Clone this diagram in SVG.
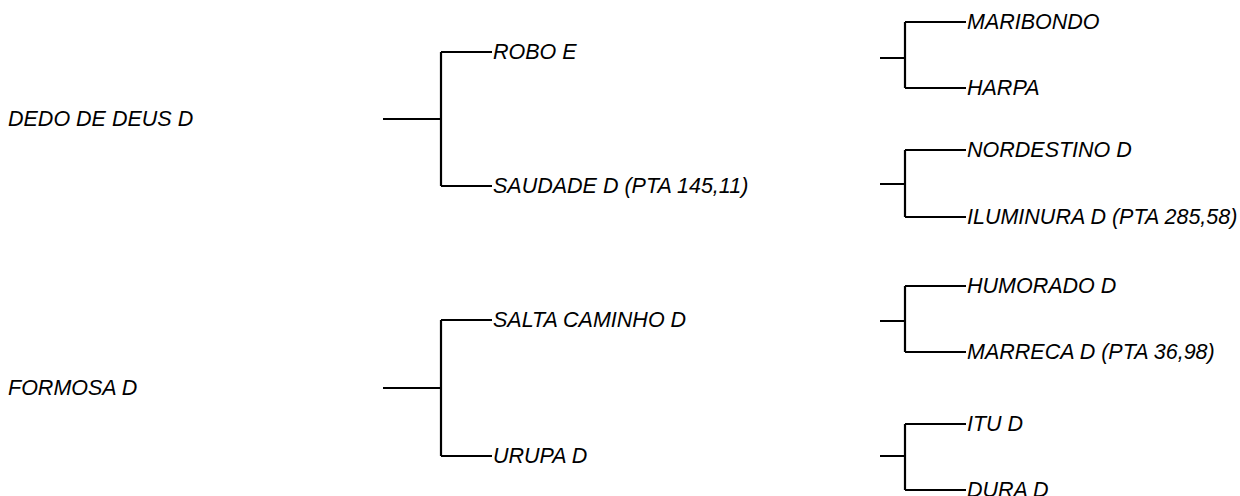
<svg xmlns="http://www.w3.org/2000/svg" width="1240" height="496" viewBox="0 0 1240 496">
<style>
.t{font-family:"Liberation Sans",Arial,sans-serif;font-style:italic;font-size:21.5px;fill:#000;dominant-baseline:central}
.c path{fill:none;stroke:#000;stroke-width:2.2}
</style>
<rect width="1240" height="496" fill="#fff"/>
<g class="c" id="connectors">
<path d="M383,119H441M441,52V186M441,52H492M441,186H492"/>
<path d="M880,58H905M905,22V88M905,22H966M905,88H966"/>
<path d="M880,184H905M905,150V217M905,150H966M905,217H966"/>
<path d="M383,388H441M441,320V456M441,320H492M441,456H492"/>
<path d="M880,321H905M905,286V352M905,286H966M905,352H966"/>
<path d="M880,456H905M905,424V490M905,424H966M905,490H966"/>
</g>
<g id="n-dedo"><text class="t" x="8" y="119">DEDO DE DEUS D</text></g>
<g id="n-robo"><text class="t" x="493" y="52">ROBO E</text></g>
<g id="n-saudade"><text class="t" x="493" y="186">SAUDADE D (PTA 145,11)</text></g>
<g id="n-maribondo"><text class="t" x="967" y="22">MARIBONDO</text></g>
<g id="n-harpa"><text class="t" x="967" y="88">HARPA</text></g>
<g id="n-nordestino"><text class="t" x="967" y="150">NORDESTINO D</text></g>
<g id="n-iluminura"><text class="t" x="967" y="217">ILUMINURA D (PTA 285,58)</text></g>
<g id="n-formosa"><text class="t" x="8" y="388">FORMOSA D</text></g>
<g id="n-salta"><text class="t" x="493" y="320">SALTA CAMINHO D</text></g>
<g id="n-urupa"><text class="t" x="493" y="456">URUPA D</text></g>
<g id="n-humorado"><text class="t" x="967" y="286">HUMORADO D</text></g>
<g id="n-marreca"><text class="t" x="967" y="352">MARRECA D (PTA 36,98)</text></g>
<g id="n-itu"><text class="t" x="967" y="424">ITU D</text></g>
<g id="n-dura"><text class="t" x="967" y="490">DURA D</text></g>
</svg>
